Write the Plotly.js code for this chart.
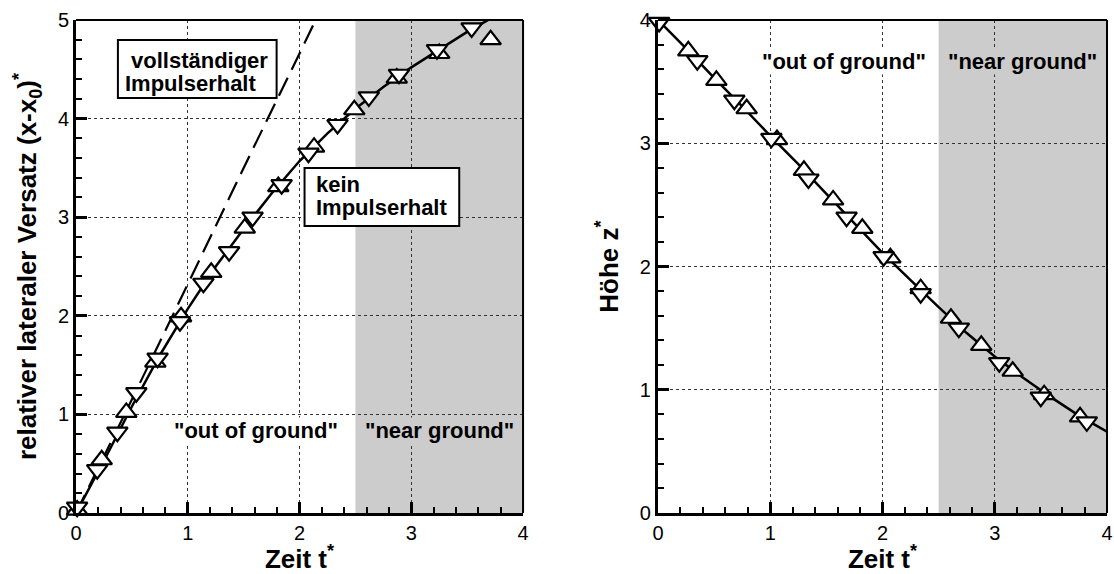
<!DOCTYPE html>
<html><head><meta charset="utf-8">
<script src="https://cdn.plot.ly/plotly-3.0.1.min.js"></script>
<style>html,body{margin:0;padding:0;background:#fff}#chart{width:1114px;height:574px}</style>
</head><body><div id="chart"></div>
<script>
// ---------- data: left panel (lateral offset) ----------
const latFitT   = [0, 0.25, 0.5, 0.75, 1.0, 1.25, 1.5, 1.75, 2.0, 2.25, 2.5, 2.75, 3.0, 3.25, 3.5, 3.75];
const latFitY   = [0, 0.53, 1.08, 1.6, 2.07, 2.5, 2.88, 3.24, 3.57, 3.85, 4.1, 4.32, 4.52, 4.7, 4.88, 5.04];
const latMomT   = [0, 0.5, 1.0, 1.5, 2.0, 2.2];
const latMomY   = [0, 1.15, 2.32, 3.5, 4.66, 5.13];
const latUpT    = [0.01, 0.23, 0.45, 0.71, 0.94, 1.21, 1.51, 1.81, 2.13, 2.49, 2.87, 3.25, 3.71];
const latUpY    = [0.03, 0.54, 1.02, 1.53, 1.99, 2.44, 2.89, 3.31, 3.71, 4.09, 4.41, 4.66, 4.80];
const latDownT  = [0.01, 0.19, 0.37, 0.54, 0.73, 0.93, 1.14, 1.37, 1.58, 1.84, 2.08, 2.34, 2.62, 2.89, 3.23, 3.54];
const latDownY  = [0.06, 0.44, 0.82, 1.22, 1.57, 1.94, 2.33, 2.65, 3.00, 3.33, 3.65, 3.94, 4.22, 4.45, 4.70, 4.92];
// ---------- data: right panel (height) ----------
const hFitT     = [0, 0.25, 0.5, 0.75, 1.0, 1.25, 1.5, 1.75, 2.0, 2.25, 2.5, 2.75, 3.0, 3.25, 3.5, 3.75, 4.0];
const hFitY     = [4.0, 3.77, 3.53, 3.30, 3.06, 2.83, 2.59, 2.35, 2.11, 1.89, 1.67, 1.46, 1.27, 1.10, 0.94, 0.79, 0.66];
const hUpT      = [0.02, 0.27, 0.52, 0.79, 1.06, 1.30, 1.56, 1.82, 2.07, 2.34, 2.61, 2.88, 3.16, 3.44, 3.76];
const hUpY      = [4.01, 3.75, 3.51, 3.28, 3.03, 2.78, 2.54, 2.31, 2.07, 1.82, 1.58, 1.36, 1.15, 0.96, 0.78];
const hDownT    = [0.01, 0.35, 0.68, 1.01, 1.34, 1.68, 2.01, 2.34, 2.68, 3.04, 3.41, 3.82];
const hDownY    = [3.98, 3.67, 3.35, 3.04, 2.71, 2.40, 2.08, 1.78, 1.50, 1.22, 0.94, 0.74];
// ---------- regions & labels ----------
const nearGroundStart = 2.5;
const nearGroundEnd   = 4;
const regionLabels    = ['"out of ground"', '"near ground"'];
const boxTextMomentum = ['vollständiger', 'Impulserhalt'];
const boxTextNoMom    = ['kein', 'Impulserhalt'];
const xTitle  = 'Zeit t<sup>*</sup>';
const yTitleL = 'relativer lateraler Versatz (x-x<sub>0</sub>)<sup>*</sup>';
const yTitleR = 'Höhe z<sup>*</sup>';

// ---------- styling ----------
const FONT = 'Liberation Sans, Arial, Helvetica, sans-serif';
const GRAY = '#cccccc';
const mk = (sym) => ({symbol: sym, size: 18, color: 'white', line: {color: 'black', width: 2.2}});
const lineTrace = (x, y, xa, ya, dash) => ({x, y, xaxis: xa, yaxis: ya, type: 'scatter', mode: 'lines',
  line: {color: 'black', width: dash ? 2.2 : 2.5, dash: dash || 'solid'}, hoverinfo: 'skip', showlegend: false});
const markTrace = (x, y, xa, ya, sym) => ({x, y, xaxis: xa, yaxis: ya, type: 'scatter', mode: 'markers',
  marker: mk(sym), cliponaxis: false, showlegend: false});

const data = [
  lineTrace(latMomT, latMomY, 'x', 'y', '20px,9px'),
  lineTrace(latFitT, latFitY, 'x', 'y'),
  markTrace(latUpT, latUpY, 'x', 'y', 'triangle-up'),
  markTrace(latDownT, latDownY, 'x', 'y', 'triangle-down'),
  lineTrace(hFitT, hFitY, 'x2', 'y2'),
  markTrace(hUpT, hUpY, 'x2', 'y2', 'triangle-up'),
  markTrace(hDownT, hDownY, 'x2', 'y2', 'triangle-down')
];

const axisBase = {
  showline: true, linewidth: 3, linecolor: 'black', mirror: false, zeroline: false,
  ticks: 'inside', ticklen: 11, tickwidth: 3, tickcolor: 'black', dtick: 1, tick0: 0,
  showgrid: true, gridcolor: '#333', gridwidth: 1, griddash: 'dot',
  tickfont: {family: FONT, size: 20, color: 'black'},
  minor: {ticks: 'inside', dtick: 0.2, ticklen: 6, tickwidth: 2, tickcolor: 'black', showgrid: false},
  fixedrange: true
};
const titleFont = {family: FONT, size: 26, color: 'black', weight: 'bold'};

const frame = (xr, yr) => ([
  {type: 'line', xref: xr + ' domain', yref: yr + ' domain', x0: 0, x1: 1, y0: 1, y1: 1, line: {color: 'black', width: 2}, layer: 'above'},
  {type: 'line', xref: xr + ' domain', yref: yr + ' domain', x0: 1, x1: 1, y0: 0, y1: 1, line: {color: 'black', width: 2}, layer: 'above'}
]);

const shapes = [
  {type: 'rect', xref: 'x', yref: 'y domain', x0: nearGroundStart, x1: nearGroundEnd, y0: 0, y1: 1, fillcolor: GRAY, line: {width: 0}, layer: 'below'},
  {type: 'rect', xref: 'x2', yref: 'y2 domain', x0: nearGroundStart, x1: nearGroundEnd, y0: 0, y1: 1, fillcolor: GRAY, line: {width: 0}, layer: 'below'},
  // annotation boxes
  {type: 'rect', xref: 'x', yref: 'y', x0: 0.375, x1: 1.795, y0: 4.209, y1: 4.797, fillcolor: 'white', line: {color: 'black', width: 2}, layer: 'above'},
  {type: 'rect', xref: 'x', yref: 'y', x0: 2.045, x1: 3.429, y0: 2.911, y1: 3.499, fillcolor: 'white', line: {color: 'black', width: 2}, layer: 'above'},
  ...frame('x', 'y'), ...frame('x2', 'y2')
];

const tf = {family: FONT, size: 22, color: 'black', weight: 'bold'};
const ann = (text, x, y, xr, yr, opts) => Object.assign({text, x, y, xref: xr, yref: yr, showarrow: false,
  font: tf, borderpad: 0}, opts || {});

const annotations = [
  ann(regionLabels[0], 1.61, 0.835, 'x', 'y', {bgcolor: 'white'}),
  ann(regionLabels[1], 3.25, 0.835, 'x', 'y', {bgcolor: GRAY}),
  ann(regionLabels[0], 1.66, 3.665, 'x2', 'y2', {bgcolor: 'white'}),
  ann(regionLabels[1], 3.25, 3.665, 'x2', 'y2', {bgcolor: GRAY}),
  ann(boxTextMomentum[0], 0.48, 4.587, 'x', 'y', {xanchor: 'left'}),
  ann(boxTextMomentum[1], 0.43, 4.354, 'x', 'y', {xanchor: 'left'}),
  ann(boxTextNoMom[0], 2.134, 3.334, 'x', 'y', {xanchor: 'left'}),
  ann(boxTextNoMom[1], 2.134, 3.100, 'x', 'y', {xanchor: 'left'})
];

const layout = {
  width: 1114, height: 574,
  margin: {l: 76, r: 7, t: 20, b: 61},
  paper_bgcolor: 'white', plot_bgcolor: 'white',
  showlegend: false,
  font: {family: FONT, color: 'black'},
  xaxis: Object.assign({}, axisBase, {domain: [0, 0.4336], range: [0, 4], anchor: 'y',
    title: {text: xTitle, font: titleFont, standoff: 8}}),
  yaxis: Object.assign({}, axisBase, {domain: [0, 1], range: [0, 5], anchor: 'x',
    title: {text: yTitleL, font: titleFont, standoff: 14}}),
  xaxis2: Object.assign({}, axisBase, {domain: [0.5645, 1], range: [0, 4], anchor: 'y2',
    title: {text: xTitle, font: titleFont, standoff: 8}}),
  yaxis2: Object.assign({}, axisBase, {domain: [0, 1], range: [0, 4], anchor: 'x2',
    title: {text: yTitleR, font: titleFont, standoff: 14}}),
  shapes, annotations
};

Plotly.newPlot('chart', data, layout, {displayModeBar: false, staticPlot: true});
</script></body></html>
